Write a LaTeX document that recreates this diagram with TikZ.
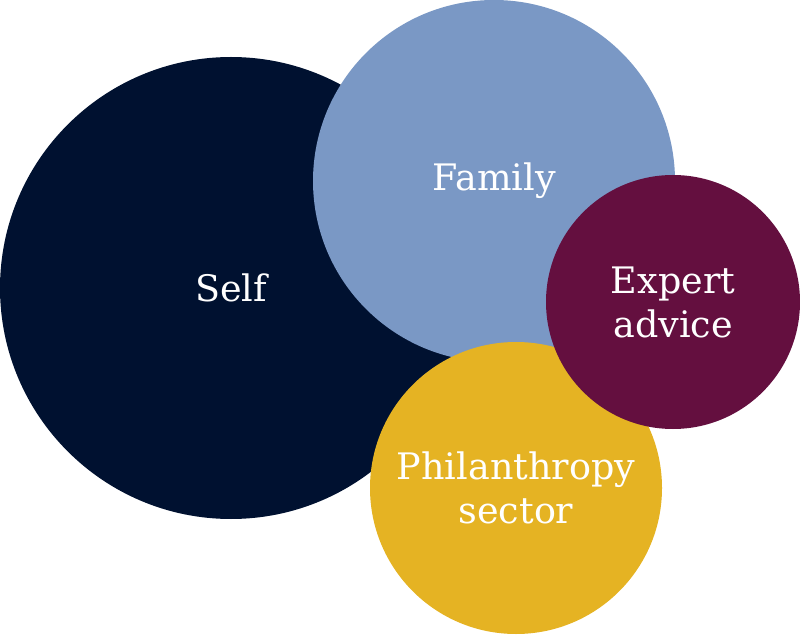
\documentclass[tikz,border=0pt]{standalone}
\usepackage{fontspec}
\setmainfont{DejaVu Serif}
\definecolor{selfnavy}{HTML}{001130}
\definecolor{familyblue}{HTML}{7A98C5}
\definecolor{expertred}{HTML}{640F3F}
\definecolor{sectorgold}{HTML}{E5B323}
\begin{document}
\begin{tikzpicture}[x=1pt, y=1pt,
  bubble/.style={circle, inner sep=0pt, minimum size=#1, text=white,
    align=center, font=\fontsize{36.5}{44}\selectfont}]
  \useasboundingbox (0,0) rectangle (800,635);

  % Circles, back to front
  \node[bubble=462pt, fill=selfnavy] (self) at (231,347) {Self};
  \node[bubble=362pt, fill=familyblue] (family) at (494,454) {Family};
  \node[bubble=292pt, fill=sectorgold] (sector) at (516,147) {Philanthropy\\sector};
  \node[bubble=254pt, fill=expertred] (expert) at (673,333) {Expert\\advice};
\end{tikzpicture}
\end{document}
